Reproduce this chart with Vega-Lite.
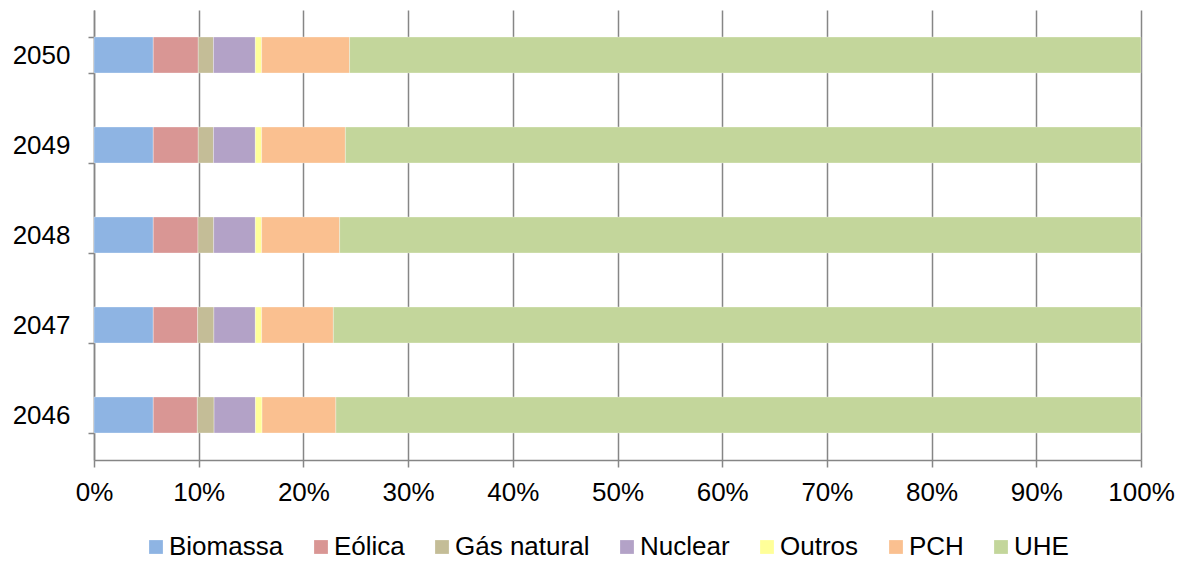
{
  "$schema": "https://vega.github.io/schema/vega-lite/v6.json",
  "width": 1047,
  "height": 450,
  "autosize": "none",
  "padding": {"left": 94, "top": 10, "right": 45, "bottom": 103},
  "background": "white",
  "config": {
    "view": {"stroke": null},
    "font": "Liberation Sans"
  },
  "data": {
    "values": [
      {"ano": "2050", "fonte": "Biomassa", "valor": 5.66},
      {"ano": "2050", "fonte": "Eólica", "valor": 4.3},
      {"ano": "2050", "fonte": "Gás natural", "valor": 1.45},
      {"ano": "2050", "fonte": "Nuclear", "valor": 4.0},
      {"ano": "2050", "fonte": "Outros", "valor": 0.6},
      {"ano": "2050", "fonte": "PCH", "valor": 8.4},
      {"ano": "2050", "fonte": "UHE", "valor": 75.59},
      {"ano": "2049", "fonte": "Biomassa", "valor": 5.66},
      {"ano": "2049", "fonte": "Eólica", "valor": 4.3},
      {"ano": "2049", "fonte": "Gás natural", "valor": 1.45},
      {"ano": "2049", "fonte": "Nuclear", "valor": 4.0},
      {"ano": "2049", "fonte": "Outros", "valor": 0.6},
      {"ano": "2049", "fonte": "PCH", "valor": 8.0},
      {"ano": "2049", "fonte": "UHE", "valor": 75.99},
      {"ano": "2048", "fonte": "Biomassa", "valor": 5.66},
      {"ano": "2048", "fonte": "Eólica", "valor": 4.27},
      {"ano": "2048", "fonte": "Gás natural", "valor": 1.5},
      {"ano": "2048", "fonte": "Nuclear", "valor": 3.98},
      {"ano": "2048", "fonte": "Outros", "valor": 0.6},
      {"ano": "2048", "fonte": "PCH", "valor": 7.45},
      {"ano": "2048", "fonte": "UHE", "valor": 76.54},
      {"ano": "2047", "fonte": "Biomassa", "valor": 5.66},
      {"ano": "2047", "fonte": "Eólica", "valor": 4.24},
      {"ano": "2047", "fonte": "Gás natural", "valor": 1.55},
      {"ano": "2047", "fonte": "Nuclear", "valor": 3.96},
      {"ano": "2047", "fonte": "Outros", "valor": 0.6},
      {"ano": "2047", "fonte": "PCH", "valor": 6.85},
      {"ano": "2047", "fonte": "UHE", "valor": 77.14},
      {"ano": "2046", "fonte": "Biomassa", "valor": 5.66},
      {"ano": "2046", "fonte": "Eólica", "valor": 4.21},
      {"ano": "2046", "fonte": "Gás natural", "valor": 1.6},
      {"ano": "2046", "fonte": "Nuclear", "valor": 3.95},
      {"ano": "2046", "fonte": "Outros", "valor": 0.63},
      {"ano": "2046", "fonte": "PCH", "valor": 7.05},
      {"ano": "2046", "fonte": "UHE", "valor": 76.9}
    ]
  },
  "mark": {"type": "bar", "stroke": "white", "strokeWidth": 0.5, "strokeOpacity": 0.6},
  "encoding": {
    "y": {
      "field": "ano",
      "type": "nominal",
      "sort": "descending",
      "title": null,
      "scale": {"paddingInner": 0.6, "paddingOuter": 0.3},
      "axis": {
        "domainColor": "#868686",
        "domainWidth": 1.5,
        "tickColor": "#868686",
        "tickWidth": 1.5,
        "tickSize": 6,
        "tickBand": "extent",
        "labelFontSize": 26,
        "labelColor": "#000000",
        "labelPadding": 18,
        "labelFont": "Liberation Sans"
      }
    },
    "x": {
      "field": "valor",
      "type": "quantitative",
      "stack": "normalize",
      "title": null,
      "scale": {"domain": [0, 1], "nice": false},
      "axis": {
        "format": ".0%",
        "values": [0, 0.1, 0.2, 0.3, 0.4, 0.5, 0.6, 0.7, 0.8, 0.9, 1],
        "grid": true,
        "gridColor": "#868686",
        "gridWidth": 1.5,
        "domainColor": "#868686",
        "domainWidth": 1.5,
        "tickColor": "#868686",
        "tickWidth": 1.5,
        "tickSize": 7,
        "labelFontSize": 26,
        "labelColor": "#000000",
        "labelPadding": 12,
        "labelFont": "Liberation Sans",
        "labelFlush": false
      }
    },
    "color": {
      "field": "fonte",
      "type": "nominal",
      "title": null,
      "scale": {
        "domain": ["Biomassa", "Eólica", "Gás natural", "Nuclear", "Outros", "PCH", "UHE"],
        "range": ["#8EB4E3", "#D99694", "#C4BD97", "#B3A2C7", "#FFFF99", "#FAC090", "#C3D69B"]
      },
      "legend": {
        "orient": "none",
        "legendX": 49,
        "legendY": 524,
        "direction": "horizontal",
        "symbolType": "square",
        "symbolSize": 190,
        "symbolStrokeWidth": 0,
        "labelFontSize": 26,
        "labelColor": "#000000",
        "labelFont": "Liberation Sans",
        "labelOffset": 0,
        "columnPadding": 24
      }
    },
    "order": {"field": "fonte", "sort": "ascending"}
  }
}
